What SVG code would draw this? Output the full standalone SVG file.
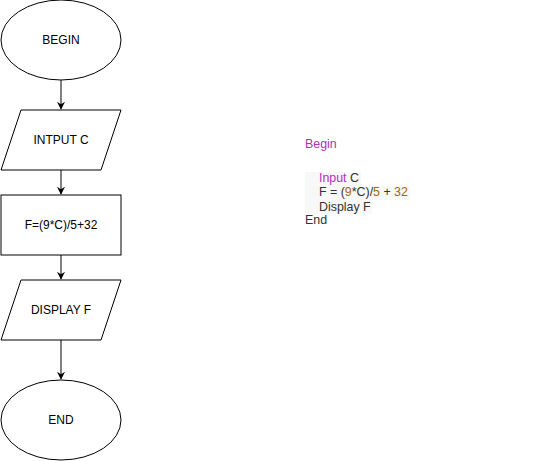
<svg xmlns="http://www.w3.org/2000/svg" width="541" height="461" viewBox="0 0 541 461">
  <defs>
    <style>
      .shape { fill: #ffffff; stroke: #000000; stroke-width: 1; }
      .label { font-family: "Liberation Sans", Arial, sans-serif; font-size: 12px; fill: #000000; text-anchor: middle; dominant-baseline: central; }
      .edge { stroke: #000000; stroke-width: 1; fill: none; marker-end: url(#arrow); }
      .code { font-family: "Liberation Sans", Arial, sans-serif; font-size: 12.4px; fill: #333333; }
      .kw { fill: #b030b8; }
      .num { fill: #a0680c; }
      .line-bg { fill: #f8f8f8; }
    </style>
    <marker id="arrow" viewBox="0 0 10 10" refX="9" refY="5" markerWidth="8" markerHeight="8" markerUnits="userSpaceOnUse" orient="auto">
      <path d="M0,0 L10,5 L0,10 L3,5 Z" fill="#000000"/>
    </marker>
  </defs>
  <rect width="541" height="461" fill="#ffffff"/>

  <g id="connectors">
    <path class="edge" d="M61,80 L61,109"/>
    <path class="edge" d="M61,170 L61,194"/>
    <path class="edge" d="M61,255 L61,279"/>
    <path class="edge" d="M61,340 L61,379"/>
  </g>

  <g id="begin">
    <ellipse class="shape" cx="61" cy="40" rx="60" ry="40"/>
    <text class="label" x="61" y="40">BEGIN</text>
  </g>
  <g id="input">
    <polygon class="shape" points="21,110 121,110 101,170 1,170"/>
    <text class="label" x="61" y="140">INTPUT C</text>
  </g>
  <g id="compute">
    <rect class="shape" x="1" y="195" width="120" height="60"/>
    <text class="label" x="61" y="225">F=(9*C)/5+32</text>
  </g>
  <g id="display">
    <polygon class="shape" points="21,280 121,280 101,340 1,340"/>
    <text class="label" x="61" y="310">DISPLAY F</text>
  </g>
  <g id="end">
    <ellipse class="shape" cx="61" cy="420" rx="60" ry="40"/>
    <text class="label" x="61" y="420">END</text>
  </g>

  <g id="pseudocode">
    <rect class="line-bg" x="305" y="172" width="56" height="14"/>
    <rect class="line-bg" x="305" y="186" width="105" height="14"/>
    <rect class="line-bg" x="305" y="200" width="67" height="14"/>
    <text class="code kw" x="305" y="148">Begin</text>
    <text class="code" x="319" y="182"><tspan class="kw">Input</tspan> C</text>
    <text class="code" x="319" y="196">F = (<tspan class="num">9</tspan>*C)/<tspan class="num">5</tspan> + <tspan class="num">32</tspan></text>
    <text class="code" x="319" y="211">Display F</text>
    <text class="code" x="305" y="224">End</text>
  </g>
</svg>
